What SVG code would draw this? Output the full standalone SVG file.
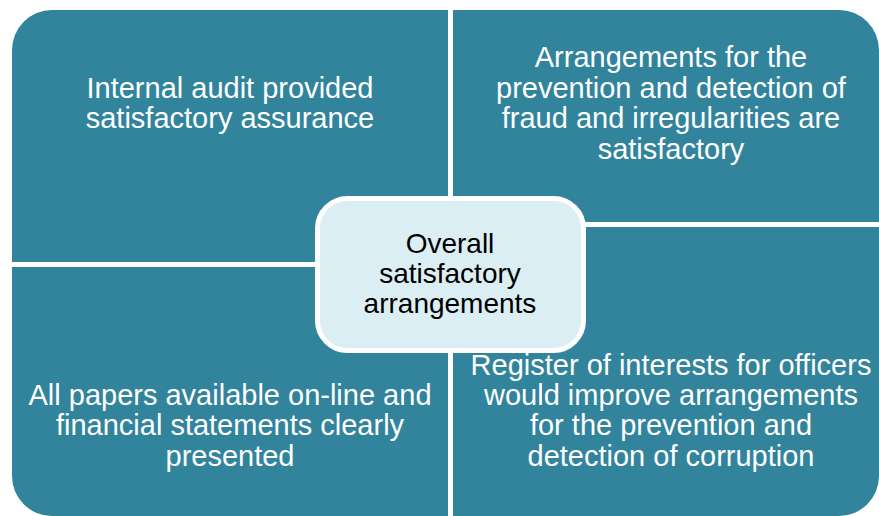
<svg xmlns="http://www.w3.org/2000/svg" width="879" height="516" viewBox="0 0 879 516">
<style>
.q{fill:#31849B;}
.t{font-family:"Liberation Sans",Arial,sans-serif;font-size:29px;fill:#FFFFFF;text-anchor:middle;}
.c{font-family:"Liberation Sans",Arial,sans-serif;font-size:28px;fill:#000000;text-anchor:middle;}
</style>
<rect width="879" height="516" fill="#FFFFFF"/>
<g id="q1">
<path class="q" d="M12,50 A40,40 0 0 1 52,10 L448,10 L448,262 L12,262 Z"/>
<text class="t" x="230" y="98">Internal audit provided</text>
<text class="t" x="230" y="128">satisfactory assurance</text>
</g>
<g id="q2">
<path class="q" d="M453,10 L839,10 A40,40 0 0 1 879,50 L879,222 L453,222 Z"/>
<text class="t" x="671" y="67">Arrangements for the</text>
<text class="t" x="671" y="98">prevention and detection of</text>
<text class="t" x="671" y="128">fraud and irregularities are</text>
<text class="t" x="671" y="159">satisfactory</text>
</g>
<g id="q3">
<path class="q" d="M12,267 L448,267 L448,516 L52,516 A40,40 0 0 1 12,476 Z"/>
<text class="t" x="230" y="405">All papers available on-line and</text>
<text class="t" x="230" y="435">financial statements clearly</text>
<text class="t" x="230" y="466">presented</text>
</g>
<g id="q4">
<path class="q" d="M453,227 L879,227 L879,476 A40,40 0 0 1 839,516 L453,516 Z"/>
<text class="t" x="671" y="375">Register of interests for officers</text>
<text class="t" x="671" y="405">would improve arrangements</text>
<text class="t" x="671" y="435">for the prevention and</text>
<text class="t" x="671" y="466">detection of corruption</text>
</g>
<g id="center">
<rect x="317.5" y="198.5" width="266" height="152" rx="30" ry="30" fill="#DAEEF3" stroke="#FFFFFF" stroke-width="5"/>
<text class="c" x="450" y="253">Overall</text>
<text class="c" x="450" y="283">satisfactory</text>
<text class="c" x="450" y="313">arrangements</text>
</g>
<g id="connectors"></g>
</svg>
